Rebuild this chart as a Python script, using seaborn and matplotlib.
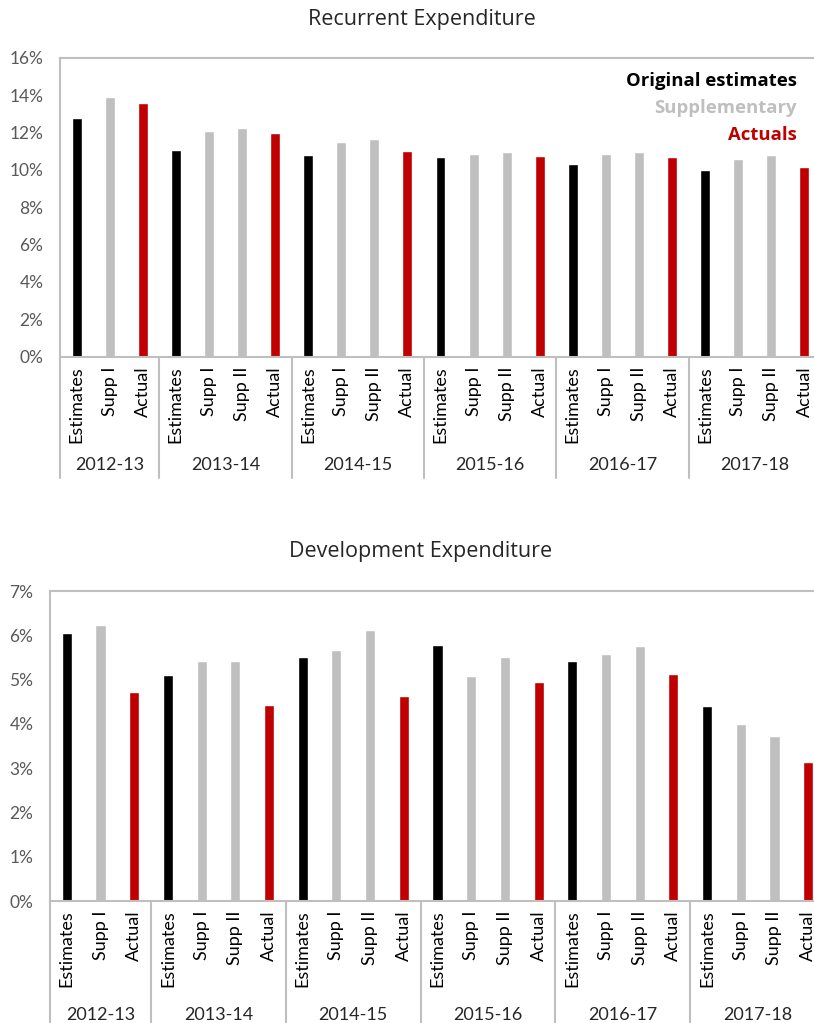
import pandas as pd
import matplotlib.pyplot as plt
import matplotlib.transforms as mtransforms
import seaborn as sns

# Chart data (percent)
years = ["2012-13", "2013-14", "2014-15", "2015-16", "2016-17", "2017-18"]
stages_first = ["Estimates", "Supp I", "Actual"]
stages = ["Estimates", "Supp I", "Supp II", "Actual"]

recurrent = [12.77, 13.91, 13.57,
             11.06, 12.06, 12.25, 11.95,
             10.79, 11.47, 11.63, 11.00,
             10.68, 10.85, 10.95, 10.74,
             10.33, 10.85, 10.95, 10.68,
             9.97, 10.58, 10.79, 10.13]
development = [6.06, 6.24, 4.72,
               5.11, 5.41, 5.43, 4.43,
               5.51, 5.67, 6.12, 4.63,
               5.77, 5.09, 5.50, 4.95,
               5.43, 5.57, 5.76, 5.13,
               4.40, 3.99, 3.73, 3.13]

kind_of = {"Estimates": "Original estimates", "Supp I": "Supplementary",
           "Supp II": "Supplementary", "Actual": "Actuals"}
colors = {"Original estimates": "#000000", "Supplementary": "#bfbfbf", "Actuals": "#c00000"}

# Build the flat category list
rows = []
for i, yr in enumerate(years):
    for st in (stages_first if i == 0 else stages):
        rows.append((yr, st))
group_sizes = [len(stages_first)] + [len(stages)] * (len(years) - 1)


def make_df(values):
    return pd.DataFrame({
        "key": [f"{yr}|{st}" for yr, st in rows],
        "stage": [st for _, st in rows],
        "kind": [kind_of[st] for _, st in rows],
        "value": values,
    })


sns.set_style("white")
plt.rcParams["font.family"] = ["Lato", "DejaVu Sans"]

W, H = 814, 1023
fig = plt.figure(figsize=(W / 100, H / 100), dpi=100)

spine_col = "#bfbfbf"
tick_col = "#595959"


def draw(ax, values, ymax, ystep, sep_len, year_y):
    df = make_df(values)
    sns.barplot(data=df, x="key", y="value", hue="kind", order=list(df["key"]),
                palette=colors, dodge=False, width=0.3, legend=False, ax=ax,
                saturation=1)
    ax.set_xlim(-0.5, len(rows) - 0.5)
    ax.set_ylim(0, ymax)
    ax.set_yticks(range(0, ymax + 1, ystep))
    ax.set_yticklabels([f"{v}%" for v in range(0, ymax + 1, ystep)])
    ax.set_xticks(range(len(rows)))
    ax.set_xticklabels(df["stage"], rotation=90)
    ax.set_xlabel("")
    ax.set_ylabel("")
    ax.tick_params(axis="y", direction="in", length=5, color=spine_col,
                   labelsize=12.5, labelcolor=tick_col, pad=12)
    ax.tick_params(axis="x", length=0, labelsize=13, labelcolor="#000000", pad=7)
    for s in ax.spines.values():
        s.set_color(spine_col)
        s.set_linewidth(1.5)

    # group separators and year labels
    trans = mtransforms.blended_transform_factory(ax.transData, ax.transAxes)
    start = -0.5
    for yr, n in zip(years, group_sizes):
        ax.plot([start, start], [0, -sep_len], transform=trans, color=spine_col,
                lw=1.5, clip_on=False)
        ax.text(start + n / 2, year_y, yr, transform=trans, ha="center",
                va="center", fontsize=13, color="#262626")
        start += n
    ax.plot([start, start], [0, -sep_len], transform=trans, color=spine_col,
            lw=1.5, clip_on=False)


# Top chart: recurrent expenditure
ax1 = fig.add_axes([60 / W, 1 - 356.7 / H, 761 / W, 299 / H])
draw(ax1, recurrent, 16, 2, 0.405, -0.362)

# Bottom chart: development expenditure
ax2 = fig.add_axes([50 / W, 1 - 901 / H, 775 / W, 310 / H])
draw(ax2, development, 7, 1, 0.45, -0.368)

title_font = ["Open Sans", "DejaVu Sans"]
fig.text(422 / W, 1 - 20 / H, "Recurrent Expenditure", ha="center", va="center",
         fontsize=15.5, family=title_font, color="#262626")
fig.text(421 / W, 1 - 551 / H, "Development Expenditure", ha="center", va="center",
         fontsize=15.5, family=title_font, color="#262626")

# Colour-coded legend text
for label, ypix in [("Original estimates", 81), ("Supplementary", 108), ("Actuals", 135)]:
    fig.text(797 / W, 1 - ypix / H, label, ha="right", va="center", fontsize=13.3,
             fontweight="bold", family=title_font, color=colors[label])

fig.savefig("out.png", dpi=100)
